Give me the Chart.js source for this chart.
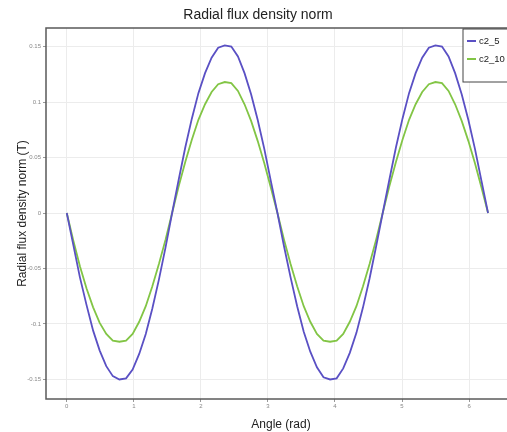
<!DOCTYPE html>
<html>
<head>
<meta charset="utf-8">
<script src="https://cdn.jsdelivr.net/npm/chart.js@4.4.1/dist/chart.umd.min.js"></script>
<style>
  body { margin: 0; background: #fff; }
  #wrap { width: 507px; height: 432px; overflow: hidden; position: relative; }
  #wrap canvas { position: absolute; left: 0; top: 0; }
</style>
</head>
<body>
<div id="wrap"><canvas id="flux" width="516" height="432"></canvas></div>
<script>
var angles = [0, 0.098, 0.196, 0.295, 0.393, 0.491, 0.589, 0.687, 0.785, 0.884,
  0.982, 1.080, 1.178, 1.276, 1.374, 1.473, 1.571, 1.669, 1.767, 1.865,
  1.963, 2.062, 2.160, 2.258, 2.356, 2.454, 2.553, 2.651, 2.749, 2.847,
  2.945, 3.043, 3.142, 3.240, 3.338, 3.436, 3.534, 3.632, 3.731, 3.829,
  3.927, 4.025, 4.123, 4.221, 4.320, 4.418, 4.516, 4.614, 4.712, 4.811,
  4.909, 5.007, 5.105, 5.203, 5.301, 5.400, 5.498, 5.596, 5.694, 5.792,
  5.890, 5.989, 6.087, 6.185, 6.283];

var c2_5 = [0, -0.029, -0.058, -0.083, -0.106, -0.124, -0.138, -0.147, -0.150, -0.149,
  -0.141, -0.127, -0.109, -0.086, -0.060, -0.031, 0, 0.030, 0.059, 0.085,
  0.108, 0.126, 0.140, 0.149, 0.151, 0.150, 0.141, 0.126, 0.107, 0.084,
  0.058, 0.029, 0, -0.030, -0.058, -0.084, -0.107, -0.125, -0.139, -0.148,
  -0.150, -0.149, -0.140, -0.126, -0.108, -0.085, -0.059, -0.030, 0, 0.030,
  0.059, 0.085, 0.108, 0.126, 0.140, 0.149, 0.151, 0.150, 0.141, 0.126,
  0.107, 0.084, 0.058, 0.029, 0];

var c2_10 = [0, -0.025, -0.048, -0.068, -0.085, -0.099, -0.109, -0.115, -0.116, -0.115,
  -0.109, -0.098, -0.084, -0.066, -0.046, -0.024, 0, 0.024, 0.046, 0.066,
  0.084, 0.098, 0.109, 0.116, 0.118, 0.117, 0.110, 0.098, 0.083, 0.065,
  0.045, 0.023, 0, -0.024, -0.046, -0.066, -0.084, -0.098, -0.109, -0.115,
  -0.116, -0.115, -0.109, -0.098, -0.084, -0.066, -0.046, -0.024, 0, 0.024,
  0.046, 0.066, 0.084, 0.098, 0.109, 0.116, 0.118, 0.117, 0.110, 0.098,
  0.083, 0.065, 0.045, 0.023, 0];

var yTicks = [-0.15, -0.1, -0.05, 0, 0.05, 0.1, 0.15];
var xTicks = [0, 1, 2, 3, 4, 5, 6];

function points(ys) {
  return ys.map(function (v, i) { return { x: angles[i], y: v }; });
}

// frame round the plot area + boxed legend in the top right corner
var framePlugin = {
  id: 'frame',
  afterDraw: function (chart) {
    var ctx = chart.ctx, a = chart.chartArea;
    ctx.save();
    ctx.strokeStyle = '#5a5a5a';
    ctx.lineWidth = 1.5;
    ctx.strokeRect(a.left, a.top, a.right - a.left, a.bottom - a.top);

    var lx = a.right - 53, ly = a.top + 1;
    ctx.fillStyle = '#fff';
    ctx.fillRect(lx, ly, 70, 53);
    ctx.lineWidth = 1;
    ctx.strokeStyle = '#444';
    ctx.strokeRect(lx, ly, 70, 53);
    ctx.font = '9.5px "Liberation Sans", Arial, sans-serif';
    ctx.textBaseline = 'middle';
    chart.data.datasets.forEach(function (ds, i) {
      var y = ly + 12 + i * 18;
      ctx.strokeStyle = ds.borderColor;
      ctx.lineWidth = 2;
      ctx.beginPath();
      ctx.moveTo(lx + 4, y);
      ctx.lineTo(lx + 13, y);
      ctx.stroke();
      ctx.fillStyle = '#222';
      ctx.fillText(ds.label, lx + 16, y);
    });
    ctx.restore();
  }
};

new Chart(document.getElementById('flux'), {
  type: 'line',
  data: {
    datasets: [{
      label: 'c2_5',
      data: points(c2_5),
      borderColor: '#5a50c4',
      borderWidth: 1.8,
      pointRadius: 0,
      tension: 0
    }, {
      label: 'c2_10',
      data: points(c2_10),
      borderColor: '#82c545',
      borderWidth: 1.8,
      pointRadius: 0,
      tension: 0
    }]
  },
  options: {
    responsive: false,
    animation: false,
    layout: { padding: 0 },
    plugins: {
      legend: { display: false },
      tooltip: { enabled: false },
      title: {
        display: true,
        text: 'Radial flux density norm',
        color: '#222',
        font: { family: '"Liberation Sans", Arial, sans-serif', size: 14, weight: 'normal', lineHeight: 1.2 },
        padding: { top: 7, bottom: 4.2 }
      }
    },
    scales: {
      x: {
        type: 'linear',
        min: -0.31,
        max: 6.7,
        afterBuildTicks: function (s) { s.ticks = xTicks.map(function (v) { return { value: v }; }); },
        afterFit: function (s) { s.height = 33; },
        border: { display: false },
        grid: { color: '#ececec', tickColor: '#999', tickLength: 3 },
        ticks: { color: '#888', padding: 1, maxRotation: 0, font: { size: 6 } },
        title: {
          display: true,
          text: 'Angle (rad)',
          color: '#222',
          font: { family: '"Liberation Sans", Arial, sans-serif', size: 12 },
          padding: { top: 2, bottom: 0 }
        }
      },
      y: {
        type: 'linear',
        min: -0.1676,
        max: 0.1667,
        afterBuildTicks: function (s) { s.ticks = yTicks.map(function (v) { return { value: v }; }); },
        afterFit: function (s) { s.width = 46; },
        border: { display: false },
        grid: { color: '#ececec', tickColor: '#999', tickLength: 3 },
        ticks: {
          color: '#888',
          padding: 2,
          font: { size: 6 },
          callback: function (v) { return String(Math.round(v * 100) / 100); }
        },
        title: {
          display: true,
          text: 'Radial flux density norm (T)',
          color: '#222',
          font: { family: '"Liberation Sans", Arial, sans-serif', size: 12 },
          padding: { top: 15, bottom: 0 }
        }
      }
    }
  },
  plugins: [framePlugin]
});
</script>
</body>
</html>
